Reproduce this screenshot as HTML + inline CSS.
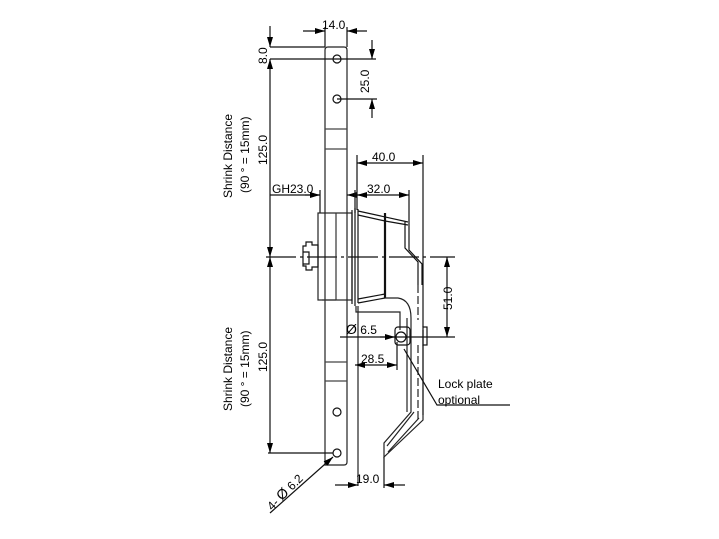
<html><body style="margin:0;background:#fff">
<svg width="719" height="539" viewBox="0 0 719 539" xmlns="http://www.w3.org/2000/svg" font-family="Liberation Sans, sans-serif" font-size="12">
<defs><marker id="a" markerWidth="10" markerHeight="6" refX="10" refY="3" orient="auto-start-reverse" markerUnits="userSpaceOnUse"><path d="M0,0L10,3L0,6z" fill="#000"/></marker></defs>
<g stroke="#111" fill="none" stroke-width="1.2">
<!-- plate -->
<path d="M325,465V50q0-3 3-3h16q3,0 3,3V462q0,3-3,3z" stroke="#222"/>
<path d="M325,129H347M325,149H347M325,362H347M325,381H347" stroke="#444"/>
<circle cx="337" cy="59" r="4"/><circle cx="337" cy="99" r="4"/><circle cx="337" cy="412" r="4"/><circle cx="337" cy="453" r="4"/>
<!-- dims top -->
<path d="M325,27V47M347,27V47"/>
<line x1="303" y1="31" x2="325" y2="31" marker-end="url(#a)"/><line x1="367" y1="31" x2="347" y2="31" marker-end="url(#a)"/>
<path d="M270,47H325M270,59H376M337,99H377"/>
<line x1="270" y1="26" x2="270" y2="47" marker-end="url(#a)"/>
<line x1="270" y1="59" x2="270" y2="257" marker-start="url(#a)" marker-end="url(#a)"/>
<line x1="372" y1="40" x2="372" y2="59" marker-end="url(#a)"/>
<line x1="372" y1="118" x2="372" y2="99" marker-end="url(#a)"/>
<path d="M266,257H455" stroke-dasharray="30,4,3,4"/>
<!-- GH, 32, 40 -->
<path d="M270,195H320"/><line x1="305" y1="195" x2="320" y2="195" marker-end="url(#a)"/>
<line x1="362" y1="195" x2="347" y2="195" marker-end="url(#a)"/>
<path d="M320,190V213M355,190V213"/>
<line x1="357" y1="195" x2="409" y2="195" marker-start="url(#a)" marker-end="url(#a)"/>
<path d="M409,190V222M357,155V210M423,155V327M423,345V415"/>
<line x1="357" y1="163" x2="423" y2="163" marker-start="url(#a)" marker-end="url(#a)"/>
<!-- body -->
<rect x="318" y="213" width="34" height="87" stroke="#222"/><path d="M336,213V300M322,300H336" stroke="#333"/>
<path d="M318,245h-6v-3h-6v4h-3v20h3v4h6v-3h6z" stroke="#111"/><path d="M303,252h6v12h-6" stroke="#111"/>
<path d="M352,210V304M355,208V306M358,209V303" stroke="#111"/>
<path d="M358,211L408,222M358,215L385,221M358,303L385,298M358,299L385,294" stroke="#111"/>
<path d="M385,213V298" stroke-width="2.2"/>
<path d="M385,221L408,225M405,222V248L418,262V285" stroke="#111"/><path d="M409,222V250L422,264V285" stroke="#111"/>
<path d="M356,306V312H400V330M358,306V486" stroke="#222"/>
<path d="M385,298H398Q411,300 411,318V412L384,443V457L423,420V330M407,318V412M414,412L387,446M419,418L388,452" stroke="#222"/>
<path d="M418,285V320M418,345V420" stroke="#222" stroke-dasharray="8,3"/>
<rect x="395" y="327" width="15" height="18" rx="3" stroke="#111"/><circle cx="401" cy="337" r="5"/>
<rect x="423" y="327" width="4" height="18" stroke="#111"/>
<!-- 51 -->
<path d="M340,337H455"/>
<line x1="447" y1="257" x2="447" y2="337" marker-start="url(#a)" marker-end="url(#a)"/>
<line x1="380" y1="337" x2="395" y2="337" marker-end="url(#a)"/>
<path d="M397,342V370"/>
<line x1="355" y1="365" x2="397" y2="365" marker-start="url(#a)" marker-end="url(#a)"/>
<path d="M404,349L437,405H510"/>
<!-- 19 -->
<path d="M384,457V488"/>
<line x1="335" y1="485" x2="358" y2="485" marker-end="url(#a)"/><line x1="405" y1="485" x2="384" y2="485" marker-end="url(#a)"/>
<!-- lower 125 -->
<path d="M268,453H333"/>
<line x1="270" y1="257" x2="270" y2="453" marker-start="url(#a)" marker-end="url(#a)"/>
<line x1="270" y1="513" x2="333" y2="457" marker-end="url(#a)"/>
</g>
<g fill="#000">
<text x="322" y="29">14.0</text>
<text transform="translate(267,64) rotate(-90)">8.0</text>
<text transform="translate(369,93) rotate(-90)">25.0</text>
<text transform="translate(267,165) rotate(-90)">125.0</text>
<text transform="translate(267,372) rotate(-90)">125.0</text>
<text transform="translate(232,198) rotate(-90)">Shrink Distance</text>
<text transform="translate(249,193) rotate(-90)">(90 ° = 15mm)</text>
<text transform="translate(232,411) rotate(-90)">Shrink Distance</text>
<text transform="translate(249,407) rotate(-90)">(90 ° = 15mm)</text>
<text x="272" y="193">GH23.0</text>
<text x="367" y="193">32.0</text>
<text x="372" y="161">40.0</text>
<text transform="translate(452,310) rotate(-90)">51.0</text>
<text x="346" y="334"><tspan font-size="14">Ø</tspan> 6.5</text>
<text x="361" y="363">28.5</text>
<text x="438" y="388">Lock plate</text>
<text x="438" y="404">optional</text>
<text x="356" y="483">19.0</text>
<text transform="translate(272,511) rotate(-45)">4- <tspan font-size="14">Ø</tspan> 6.2</text>
</g>
</svg>
</body></html>
